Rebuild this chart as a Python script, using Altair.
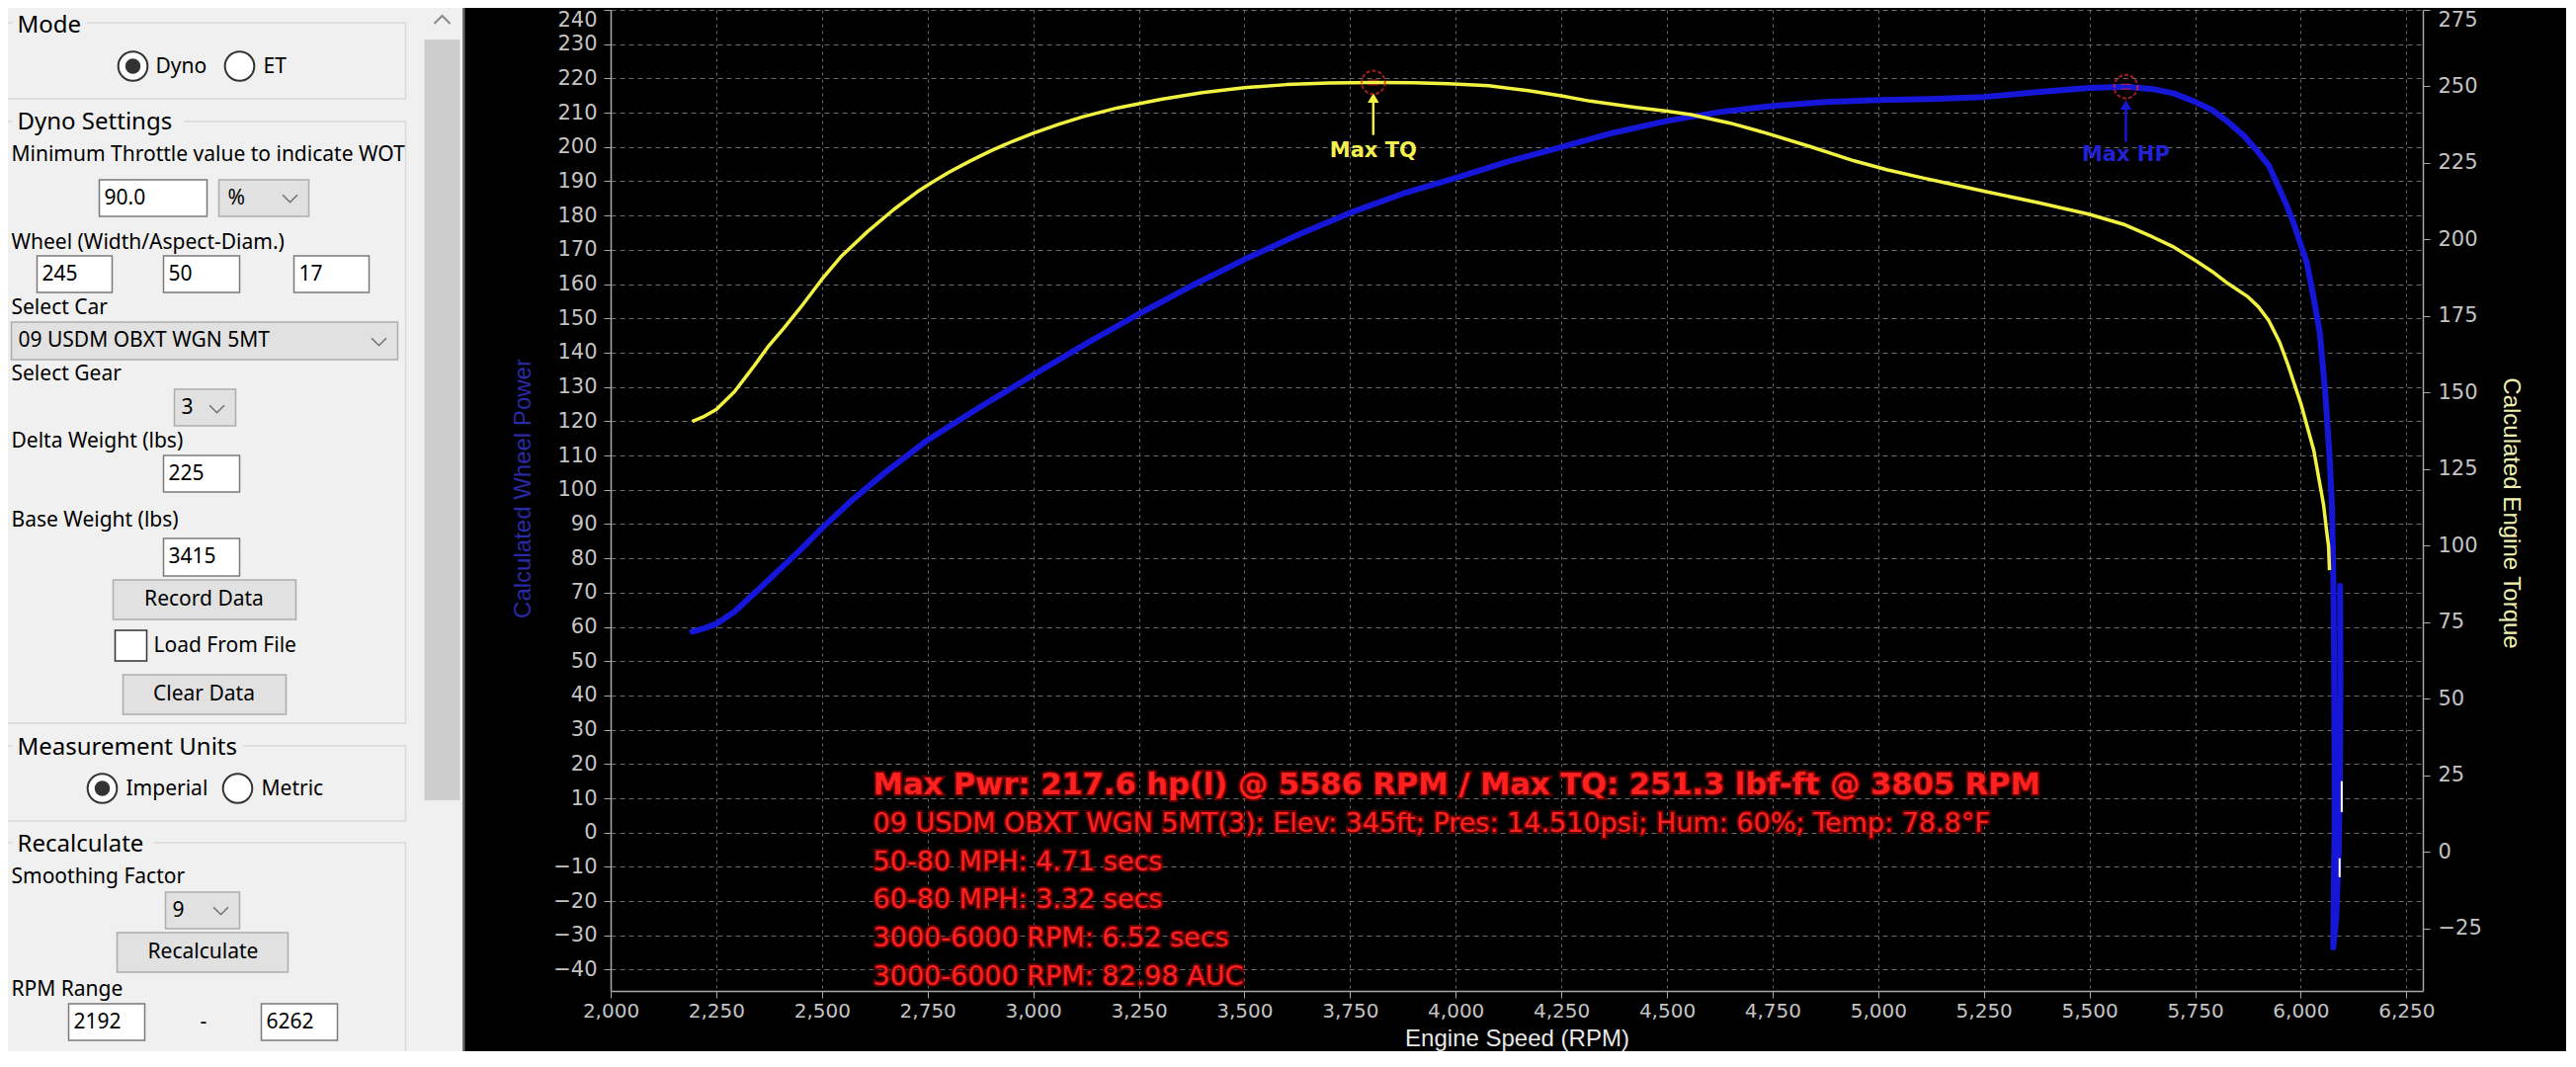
import altair as alt
import pandas as pd

# ---------------- chart data ----------------
power_rpm = [2193, 2222, 2250, 2293, 2372, 2450, 2500, 2568, 2647, 2750,
             2875, 3000, 3125, 3250, 3375, 3500, 3625, 3750, 3875, 4000,
             4125, 4250, 4375, 4500, 4625, 4750, 4875, 5000, 5125, 5250,
             5375, 5500, 5586, 5650, 5700, 5751, 5790, 5828, 5865, 5898,
             5925, 5945, 5965, 5984, 6000, 6015, 6030, 6045, 6058, 6068,
             6074, 6077, 6079, 6080, 6080, 6078, 6077, 6084, 6090, 6093,
             6094, 6093]
power_hp = [58.6, 59.6, 60.9, 64.4, 73.5, 82.6, 88.8, 96.6, 104.8, 114.5,
            124.2, 133.5, 142.6, 151.3, 159.5, 167.2, 174.3, 180.8, 186.4, 191.0,
            195.8, 200.0, 204.2, 207.6, 210.2, 212.0, 213.1, 213.7, 214.0, 214.6,
            216.0, 217.2, 217.6, 216.9, 215.6, 213.1, 210.8, 207.3, 203.3, 198.7,
            194.5, 189.0, 183.5, 177.5, 171.5, 166.0, 156.3, 146.0, 128.3, 110.0,
            95.0, 75.0, 50.0, 20.0, 0.0, -20.0, -33.5, -25.0, -5.0, 20.0,
            45.0, 72.0]

torque_rpm = [2193, 2222, 2250, 2293, 2340, 2372, 2411, 2450, 2500, 2545,
              2608, 2671, 2726, 2760, 2800, 2850, 2900, 2950, 3000, 3060,
              3118, 3200, 3303, 3400, 3500, 3600, 3700, 3805, 3900, 3984,
              4078, 4172, 4250, 4318, 4422, 4500, 4557, 4650, 4734, 4840,
              4943, 5020, 5106, 5180, 5250, 5380, 5498, 5580, 5650, 5700,
              5751, 5790, 5828, 5875, 5900, 5924, 5950, 5970, 6001, 6031,
              6054, 6062, 6066, 6068]
torque_lbft = [140.6, 142.3, 144.5, 150.3, 158.8, 164.9, 171.2, 177.9, 187.0, 194.4,
               202.6, 209.9, 215.6, 218.6, 221.9, 225.6, 229.0, 232.0, 234.7, 237.6,
               240.1, 243.0, 245.8, 248.0, 249.6, 250.6, 251.1, 251.3, 251.2, 250.9,
               250.2, 248.6, 246.9, 245.2, 243.2, 241.9, 240.8, 238.0, 234.8, 230.3,
               225.7, 222.8, 220.1, 217.9, 215.8, 212.0, 208.3, 205.0, 200.8, 197.5,
               193.1, 189.6, 185.6, 181.3, 178.0, 173.6, 166.5, 159.0, 146.1, 131.1,
               113.4, 104.0, 99.7, 92.0]

# short white flecks on the end of the power trace
fleck_rpm = [6097, 6097, 6092, 6092]
fleck_hp = [15.0, 6.0, -7.5, -13.0]
fleck_id = [0, 0, 1, 1]

x_ticks = list(range(2000, 6251, 250))
hp_ticks = list(range(-40, 241, 10))
tq_ticks = list(range(-25, 276, 25))

max_hp_rpm, max_hp = 5586, 217.6
max_tq_rpm, max_tq = 3805, 251.3

info_title = "Max Pwr: 217.6 hp(l) @ 5586 RPM / Max TQ: 251.3 lbf-ft @ 3805 RPM"
info_lines = [
    "09 USDM OBXT WGN 5MT(3); Elev: 345ft; Pres: 14.510psi; Hum: 60%; Temp: 78.8°F",
    "50-80 MPH: 4.71 secs",
    "60-80 MPH: 3.32 secs",
    "3000-6000 RPM: 6.52 secs",
    "3000-6000 RPM: 82.98 AUC",
]

# ---------------- layout / style ----------------
PAD_L, PAD_T = 610, 2
W, H = 1834, 993
CANVAS_W, CANVAS_H = 2589, 1056
X_DOMAIN = [2000, 6289]
HP_DOMAIN = [-46.2, 240]
TQ_DOMAIN = [-45.4, 275]
TEXT_RPM = 2621
TEXT_TOP = 13.7
TEXT_STEP = 11.15

GRID = "#6c6c6c"
AXC = "#a8a8a8"
LAB = "#c4c4c4"
BLUE = "#1616d8"
YEL = "#f2f240"
RED = "#ff2020"

xs = alt.Scale(domain=X_DOMAIN, nice=False, zero=False)
ys_p = alt.Scale(domain=HP_DOMAIN, nice=False, zero=False)
ys_t = alt.Scale(domain=TQ_DOMAIN, nice=False, zero=False)

X = alt.X("rpm:Q", scale=xs, axis=alt.Axis(
    values=x_ticks, format=",d", title="Engine Speed (RPM)",
    grid=True, gridColor=GRID, gridDash=[3, 4], gridWidth=1,
    domainColor=AXC, domainWidth=1.5, tickColor=AXC, tickSize=7,
    labelColor=LAB, labelFont="DejaVu Sans", labelFontSize=20, labelPadding=3,
    labelFlush=False, labelOverlap=False,
    titleColor="#e8e8e8", titleFont="Liberation Sans", titleFontSize=24,
    titleFontWeight="normal", titleX=917, titleY=48,
    titleAlign="center", titleBaseline="middle"))

YP = alt.Y("hp:Q", scale=ys_p, axis=alt.Axis(
    values=hp_ticks, title="Calculated Wheel Power", orient="left",
    grid=True, gridColor=GRID, gridDash=[5, 4], gridWidth=1,
    domainColor=AXC, domainWidth=1.5, tickColor=AXC, tickSize=7,
    labelColor=LAB, labelFont="DejaVu Sans", labelFontSize=21, labelPadding=7,
    labelOverlap=False,
    labelOffset={"condition": {"test": "datum.value == 240", "value": 10}, "value": 0},
    titleColor="#2a2aa6", titleFont="Liberation Sans", titleFontSize=24,
    titleFontWeight="normal", titleX=-89, titleY=484, titleAngle=270,
    titleAlign="center", titleBaseline="middle"))

YT = alt.Y("tq:Q", scale=ys_t, axis=alt.Axis(
    values=tq_ticks, title="Calculated Engine Torque", orient="right",
    grid=False, domainColor=AXC, domainWidth=1.5, tickColor=AXC, tickSize=7,
    labelColor=LAB, labelFont="DejaVu Sans", labelFontSize=21, labelPadding=8,
    labelOverlap=False,
    labelOffset={"condition": {"test": "datum.value == 275", "value": 10}, "value": 0},
    titleColor="#f0f0b0", titleFont="Liberation Sans", titleFontSize=24,
    titleFontWeight="normal", titleX=88, titleY=509, titleAngle=90,
    titleAlign="center", titleBaseline="middle"))

# ---------------- chart layers ----------------
pw = pd.DataFrame({"rpm": power_rpm, "hp": power_hp, "i": range(len(power_rpm))})
tq = pd.DataFrame({"rpm": torque_rpm, "tq": torque_lbft, "i": range(len(torque_rpm))})
fl = pd.DataFrame({"rpm": fleck_rpm, "hp": fleck_hp, "seg": fleck_id})

power_line = alt.Chart(pw).mark_line(color=BLUE, strokeWidth=6, strokeJoin="round",
                                     strokeCap="round").encode(x=X, y=YP, order="i:Q")
flecks = alt.Chart(fl).mark_line(color="#ffffff", strokeWidth=2).encode(
    x=X, y=YP, detail="seg:N")

CIRC = dict(shape="circle", size=560, filled=False, color="#d42a2a",
            strokeWidth=2.2, strokeDash=[4, 2])
EQ = dict(shape="M-0.45,-0.2L0.45,-0.2M-0.45,0.2L0.45,0.2", size=560, filled=False,
          color="#d42a2a", strokeWidth=1.4)

hp_pt = pd.DataFrame({"rpm": [max_hp_rpm], "hp": [max_hp]})
hp_circle = alt.Chart(hp_pt).mark_point(**CIRC).encode(x=X, y=YP)
hp_eq = alt.Chart(hp_pt).mark_point(**EQ).encode(x=X, y=YP)

arrows = pd.DataFrame({"rpm": [max_hp_rpm, max_tq_rpm],
                       "hp": [201.5, 203.5], "hp2": [212.0, 214.0],
                       "c": [BLUE, YEL]})
arrow_shaft = alt.Chart(arrows).mark_rule(strokeWidth=2.5).encode(
    x=X, y=YP, y2=alt.Y2("hp2:Q"), color=alt.Color("c:N", scale=None))
heads = pd.DataFrame({"rpm": [max_hp_rpm, max_tq_rpm], "hp": [212.3, 214.3],
                      "c": [BLUE, YEL]})
arrow_head = alt.Chart(heads).mark_point(shape="triangle-up", size=130, filled=True,
                                         opacity=1).encode(
    x=X, y=YP, color=alt.Color("c:N", scale=None))
ann_lab = pd.DataFrame({"rpm": [max_hp_rpm, max_tq_rpm], "hp": [197.6, 198.8],
                        "label": ["Max HP", "Max TQ"], "c": ["#2222d4", "#f4f050"]})
ann_text = alt.Chart(ann_lab).mark_text(font="DejaVu Sans", fontSize=21,
                                        fontWeight="bold", baseline="middle").encode(
    x=X, y=YP, text="label:N", color=alt.Color("c:N", scale=None))

info = pd.DataFrame({"rpm": [TEXT_RPM] * len(info_lines),
                     "hp": [TEXT_TOP - TEXT_STEP * (k + 1) for k in range(len(info_lines))],
                     "label": info_lines})
info_t = pd.DataFrame({"rpm": [TEXT_RPM], "hp": [TEXT_TOP], "label": [info_title]})


def red_text(df, size, weight):
    glow = alt.Chart(df).mark_text(font="DejaVu Sans", fontSize=size, fontWeight=weight,
                                   align="left", baseline="middle", color="#6e0000",
                                   stroke="#6e0000", strokeWidth=4, strokeOpacity=0.85
                                   ).encode(x=X, y=YP, text="label:N")
    top = alt.Chart(df).mark_text(font="DejaVu Sans", fontSize=size, fontWeight=weight,
                                  align="left", baseline="middle", color=RED
                                  ).encode(x=X, y=YP, text="label:N")
    return [glow, top]


power_group = alt.layer(power_line, flecks, arrow_shaft, arrow_head, ann_text,
                        hp_circle, hp_eq,
                        *red_text(info_t, 30.5, "bold"),
                        *red_text(info, 27, "normal"))

tq_pt = pd.DataFrame({"rpm": [max_tq_rpm], "tq": [max_tq]})
torque_line = alt.Chart(tq).mark_line(color=YEL, strokeWidth=3.5, strokeJoin="round"
                                      ).encode(x=X, y=YT, order="i:Q")
tq_circle = alt.Chart(tq_pt).mark_point(**CIRC).encode(x=X, y=YT)
tq_eq = alt.Chart(tq_pt).mark_point(**EQ).encode(x=X, y=YT)
torque_group = alt.layer(torque_line, tq_circle, tq_eq)

chart_group = alt.layer(power_group, torque_group).resolve_scale(y="independent")

# ---------------- left settings panel (screen coordinates of the reference) ----------------
PX = alt.X("x:Q", scale=alt.Scale(domain=[0, 2607], range=[-PAD_L - 8.5, 2607 - PAD_L - 8.5],
                                  nice=False, zero=False), axis=None)
PY = alt.Y("y:Q", scale=alt.Scale(domain=[0, 1080], range=[-PAD_T - 8, 1080 - PAD_T - 8],
                                  nice=False, zero=False), axis=None)

filled_boxes = [  # x, x2, y, y2, fill, stroke
    (0, 469, 0, 1080, "#f0f0f0", "#f0f0f0"),
    (430, 466, 40, 810, "#cdcdcd", "#cdcdcd"),
    (469, 471, 0, 1080, "#6a6a6a", "#6a6a6a"),
]
group_boxes = [(5, 411, 23, 100), (5, 411, 123, 732), (5, 411, 755, 831), (5, 411, 853, 1100)]
title_bgs = [(14, 88, 12, 38), (14, 186, 110, 138), (14, 246, 742, 770), (14, 156, 840, 868)]
text_boxes = [(101, 210, 182, 219), (38, 114, 259, 296), (166, 243, 259, 296),
              (298, 374, 259, 296), (166, 243, 461, 498), (166, 243, 545, 583),
              (70, 147, 1016, 1053), (265, 342, 1016, 1053), (117, 149, 638, 669)]
grey_boxes = [(222, 313, 182, 219), (12, 403, 326, 364), (177, 239, 394, 431),
              (168, 243, 903, 940), (115, 300, 587, 627), (125, 290, 683, 723),
              (119, 292, 944, 984)]

rows = []
for b in filled_boxes:
    rows.append(b)
for b in title_bgs:
    rows.append(b + ("#f0f0f0", "#f0f0f0"))
for b in text_boxes[:-1]:
    rows.append(b + ("#ffffff", "#7a7a7a"))
rows.append(text_boxes[-1] + ("#ffffff", "#333333"))
for b in grey_boxes:
    rows.append(b + ("#e1e1e1", "#adadad"))

rect_df = pd.DataFrame(rows, columns=["x", "x2", "y", "y2", "fill", "stroke"])
bg_df = rect_df.iloc[:3]
rest_df = rect_df.iloc[3:]
gb_df = pd.DataFrame(group_boxes, columns=["x", "x2", "y", "y2"])

bg_layer = alt.Chart(bg_df).mark_rect(strokeWidth=0).encode(
    x=PX, x2="x2:Q", y=PY, y2="y2:Q", color=alt.Color("fill:N", scale=None))
gb_layer = alt.Chart(gb_df).mark_rect(filled=False, stroke="#d8d8d8", strokeWidth=1.5).encode(
    x=PX, x2="x2:Q", y=PY, y2="y2:Q")
widget_layer = alt.Chart(rest_df).mark_rect(strokeWidth=1.5).encode(
    x=PX, x2="x2:Q", y=PY, y2="y2:Q", color=alt.Color("fill:N", scale=None),
    stroke=alt.Stroke("stroke:N", scale=None))

radios = pd.DataFrame({"x": [135, 243, 104, 241], "y": [67, 67, 798, 798]})
radio_layer = alt.Chart(radios).mark_point(shape="circle", size=880, filled=True,
                                           fill="#ffffff", stroke="#333333",
                                           strokeWidth=2, opacity=1).encode(x=PX, y=PY)
dots = pd.DataFrame({"x": [135, 104], "y": [67, 798]})
dot_layer = alt.Chart(dots).mark_point(shape="circle", size=240, filled=True,
                                       color="#333333", opacity=1).encode(x=PX, y=PY)
chev = pd.DataFrame({"x": [294, 384, 220, 224], "y": [201, 346, 414, 922]})
chev_layer = alt.Chart(chev).mark_point(shape="M-1,-0.5L0,0.5L1,-0.5", size=220,
                                        filled=False, color="#444444",
                                        strokeWidth=1.6).encode(x=PX, y=PY)
up = pd.DataFrame({"x": [448], "y": [20]})
up_layer = alt.Chart(up).mark_point(shape="M-1,0.5L0,-0.5L1,0.5", size=260,
                                    filled=False, color="#606060",
                                    strokeWidth=2).encode(x=PX, y=PY)

labels = [
    ("Minimum Throttle value to indicate WOT", 12, 157),
    ("Wheel (Width/Aspect-Diam.)", 12, 246),
    ("Select Car", 12, 312),
    ("Select Gear", 12, 379),
    ("Delta Weight (lbs)", 12, 447),
    ("Base Weight (lbs)", 12, 527),
    ("Load From File", 156, 654),
    ("Smoothing Factor", 12, 888),
    ("RPM Range", 12, 1002),
    ("-", 203, 1035),
    ("Dyno", 158, 68), ("ET", 267, 68), ("Imperial", 128, 799), ("Metric", 265, 799),
    ("90.0", 106, 201), ("245", 43, 278), ("50", 171, 278), ("17", 303, 278),
    ("225", 171, 480), ("3415", 171, 564), ("2192", 75, 1035), ("6262", 270, 1035),
    ("%", 231, 201), ("09 USDM OBXT WGN 5MT", 19, 345), ("3", 184, 413), ("9", 175, 922),
]
lab_df = pd.DataFrame(labels, columns=["t", "x", "y"])
lab_layer = alt.Chart(lab_df).mark_text(font="Noto Sans", fontSize=21, align="left",
                                        baseline="middle", color="#000000").encode(
    x=PX, y=PY, text="t:N")
centered = [("Record Data", 207, 607), ("Clear Data", 207, 703), ("Recalculate", 206, 964)]
cen_df = pd.DataFrame(centered, columns=["t", "x", "y"])
cen_layer = alt.Chart(cen_df).mark_text(font="Noto Sans", fontSize=21, align="center",
                                        baseline="middle", color="#000000").encode(
    x=PX, y=PY, text="t:N")
titles = [("Mode", 18, 26), ("Dyno Settings", 18, 124), ("Measurement Units", 18, 757),
          ("Recalculate", 18, 855)]
tit_df = pd.DataFrame(titles, columns=["t", "x", "y"])
tit_layer = alt.Chart(tit_df).mark_text(font="Noto Sans", fontSize=24, align="left",
                                        baseline="middle", color="#000000").encode(
    x=PX, y=PY, text="t:N")

panel_group = alt.layer(bg_layer, gb_layer, widget_layer, radio_layer, dot_layer,
                        chev_layer, up_layer, lab_layer, cen_layer, tit_layer)

chart = alt.layer(panel_group, chart_group).resolve_scale(
    x="independent", y="independent"
).properties(
    width=W, height=H,
    padding={"left": PAD_L, "top": PAD_T,
             "right": CANVAS_W - PAD_L - W, "bottom": CANVAS_H - PAD_T - H},
    autosize=alt.AutoSizeParams(type="none"),
    background="#000000",
).configure_view(stroke=None)

chart.save("out.html", embed_options={"renderer": "svg", "actions": False})
